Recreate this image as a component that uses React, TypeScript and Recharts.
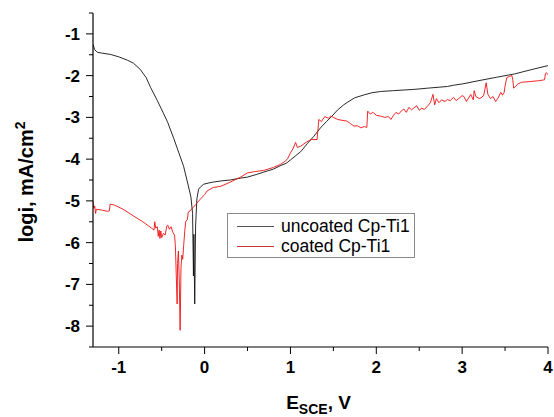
import { LineChart, Line, XAxis, YAxis } from 'recharts';

// uncoated Cp-Ti1: [E (V vs SCE), log i]
const uncoatedE = [
  -1.3, -1.28, -1.25, -1.2, -1.1, -1.0, -0.9, -0.83, -0.75, -0.68, -0.63, -0.55, -0.48, -0.43, -0.36,
  -0.3, -0.245, -0.2, -0.16, -0.14, -0.13, -0.125, -0.115, -0.105, -0.09, -0.07, -0.04, -0.01, 0.05,
  0.1, 0.2, 0.3, 0.4, 0.5, 0.6, 0.69, 0.8, 0.88, 0.95, 1.0, 1.06, 1.12, 1.2, 1.27, 1.35, 1.42, 1.47,
  1.55, 1.62, 1.67, 1.75, 1.86, 1.95, 2.05, 2.2, 2.44, 2.6, 2.83, 2.9, 3.0, 3.22, 3.4, 3.61, 3.8, 4.0,
];
const uncoatedLogI = [
  -1.25, -1.38, -1.44, -1.46, -1.49, -1.55, -1.63, -1.7, -1.85, -2.05, -2.28, -2.6, -2.9, -3.12, -3.5,
  -3.85, -4.17, -4.55, -4.9, -5.3, -6.8, -5.8, -7.47, -5.6, -4.95, -4.72, -4.65, -4.6, -4.57,
  -4.55, -4.52, -4.5, -4.46, -4.43, -4.37, -4.31, -4.24, -4.16, -4.1, -4.02, -3.92, -3.82, -3.62, -3.46, -3.25, -3.1, -3.0,
  -2.82, -2.7, -2.63, -2.53, -2.46, -2.41, -2.38, -2.36, -2.33, -2.3, -2.26, -2.23, -2.2, -2.11, -2.04, -1.96, -1.86, -1.76,
];

// coated Cp-Ti1
const coatedE = [
  -1.3, -1.29, -1.28, -1.27, -1.26, -1.2, -1.13, -1.11, -1.1, -1.05, -0.95, -0.83, -0.72, -0.62, -0.59,
  -0.58, -0.57, -0.55, -0.54, -0.53, -0.52, -0.51, -0.5, -0.48, -0.46, -0.44, -0.43, -0.41, -0.39, -0.37,
  -0.35, -0.34, -0.33, -0.32, -0.315, -0.305, -0.295, -0.285, -0.275, -0.265, -0.255, -0.245, -0.23, -0.22,
  -0.2, -0.19, -0.16, -0.13, -0.1, -0.05, 0.0, 0.03, 0.1, 0.19, 0.3, 0.42, 0.5, 0.58, 0.69, 0.8, 0.88,
  0.94, 0.97, 1.0, 1.03, 1.06, 1.08, 1.12, 1.18, 1.24, 1.31, 1.32, 1.33, 1.36, 1.4, 1.44, 1.47, 1.5, 1.55,
  1.6, 1.66, 1.7, 1.74, 1.78, 1.82, 1.86, 1.89, 1.9, 1.93, 1.96, 2.0, 2.05, 2.1, 2.14, 2.17, 2.2, 2.23,
  2.26, 2.29, 2.32, 2.35, 2.38, 2.41, 2.44, 2.47, 2.5, 2.53, 2.56, 2.6, 2.63, 2.66, 2.68, 2.7, 2.73, 2.76,
  2.8, 2.83, 2.86, 2.9, 2.93, 2.96, 3.0, 3.02, 3.05, 3.08, 3.1, 3.13, 3.14, 3.16, 3.2, 3.22, 3.25, 3.28,
  3.3, 3.33, 3.36, 3.39, 3.42, 3.45, 3.47, 3.49, 3.5, 3.52, 3.55, 3.58, 3.59, 3.6, 3.65, 3.69, 3.8, 3.9,
  3.96, 3.97, 3.98, 4.0,
];
const coatedLogI = [
  -5.0, -5.18, -5.12, -5.3, -5.2, -5.22, -5.25, -5.24, -5.08, -5.1, -5.2, -5.36, -5.5, -5.65, -5.7,
  -5.5, -5.65, -5.62, -5.85, -5.7, -5.9, -5.72, -5.88, -5.78, -5.82, -5.6, -5.58, -5.68, -5.62, -5.75,
  -5.82, -6.1, -6.8, -7.47, -6.5, -6.2, -6.9, -8.1, -6.6, -6.3, -6.4, -6.1, -5.7, -5.5,
  -5.44, -5.27, -5.22, -5.15, -5.08, -4.96, -4.85, -4.76, -4.68, -4.65, -4.55, -4.43, -4.33, -4.3, -4.27, -4.2, -4.13,
  -4.05, -3.98, -3.85, -3.75, -3.6, -3.72, -3.69, -3.6, -3.53, -3.53, -3.3, -3.05, -3.1, -2.98, -3.02, -2.97, -3.0, -3.05,
  -3.07, -3.09, -3.15, -3.21, -3.2, -3.25, -3.22, -3.24, -2.85, -2.92, -2.88, -2.95, -2.97, -3.0, -2.98, -3.05, -2.95, -2.88,
  -2.92, -2.85, -2.8, -2.88, -2.76, -2.82, -2.77, -2.72, -2.83, -2.78, -2.81, -2.72, -2.65, -2.45, -2.7, -2.55, -2.65, -2.58,
  -2.62, -2.57, -2.6, -2.52, -2.6, -2.55, -2.48, -2.5, -2.62, -2.52, -2.45, -2.58, -2.36, -2.5, -2.55, -2.53, -2.48, -2.17,
  -2.45, -2.55, -2.5, -2.62, -2.53, -2.4, -2.47, -2.4, -2.25, -2.05, -2.02, -2.0, -2.1, -2.3, -2.2, -2.16, -2.14, -2.12,
  -2.1, -1.95, -1.93, -1.98,
];

const xTicks = [-1, -0.5, 0, 0.5, 1, 1.5, 2, 2.5, 3, 3.5, 4];
const yTicks = [-8.5, -8, -7.5, -7, -6.5, -6, -5.5, -5, -4.5, -4, -3.5, -3, -2.5, -2, -1.5, -1, -0.5];

const seriesNames = ['uncoated Cp-Ti1', 'coated Cp-Ti1'];
const seriesColors = ['#111', '#ee1111'];
const legendColors = ['#555', '#c33'];

const uncoated = uncoatedE.map((e, i) => ({ e, v: uncoatedLogI[i] }));
const coated = coatedE.map((e, i) => ({ e, v: coatedLogI[i] }));

const FONT = '"Liberation Sans", Arial, sans-serif';

const XTick = ({ x, y, payload }: any) => {
  const major = Number.isInteger(payload.value);
  return (
    <g>
      <line x1={x} y1={y} x2={x} y2={y + (major ? 7 : 4)} stroke="#000" />
      {major && (
        <text x={x} y={y + 26} textAnchor="middle" fontFamily={FONT} fontWeight="bold" fontSize={17} fill="#000">
          {payload.value}
        </text>
      )}
    </g>
  );
};

const YTick = ({ x, y, payload }: any) => {
  const major = Number.isInteger(payload.value);
  return (
    <g>
      <line x1={x} y1={y} x2={x - (major ? 7 : 4)} y2={y} stroke="#000" />
      {major && (
        <text x={x - 13} y={y + 6} textAnchor="end" fontFamily={FONT} fontWeight="bold" fontSize={17} fill="#000">
          {payload.value}
        </text>
      )}
    </g>
  );
};

const LegendBox = () => (
  <div
    style={{
      position: 'absolute',
      left: 227,
      top: 213,
      width: 188,
      height: 45,
      border: '1px solid #8a8a8a',
      background: '#fff',
      fontFamily: FONT,
      fontSize: 17.5,
      color: '#000',
      boxSizing: 'border-box',
      padding: '2px 0 0 9px',
      lineHeight: '20px',
    }}
  >
    {seriesNames.map((name, i) => (
      <div key={name} style={{ display: 'flex', alignItems: 'center' }}>
        <span style={{ display: 'inline-block', width: 37, height: 0, borderTop: `1px solid ${legendColors[i]}`, marginRight: 7 }} />
        <span>{name}</span>
      </div>
    ))}
  </div>
);

export default function App() {
  return (
    <div style={{ position: 'absolute', left: 0, top: 0, width: 554, height: 417, background: '#fff' }}>
      <LineChart width={554} height={417} margin={{ top: 13, right: 6, bottom: 0, left: 0 }}>
        <XAxis
          type="number"
          dataKey="e"
          domain={[-1.3, 4]}
          ticks={xTicks}
          interval={0}
          allowDataOverflow
          height={70}
          tickSize={0}
          tickMargin={0}
          tickLine={false}
          tick={<XTick />}
          axisLine={{ stroke: '#000', strokeWidth: 1.2 }}
          label={{
            content: ({ viewBox }: any) => (
              <text x={viewBox.x + viewBox.width / 2 - 2} y={viewBox.y + 62} textAnchor="middle" fontFamily={FONT} fontWeight="bold" fill="#000">
                <tspan fontSize={19}>E</tspan>
                <tspan fontSize={14} dy={5}>SCE</tspan>
                <tspan fontSize={19} dy={-5}>, V</tspan>
              </text>
            ),
          }}
        />
        <YAxis
          type="number"
          domain={[-8.5, -0.5]}
          ticks={yTicks}
          interval={0}
          allowDataOverflow
          width={93}
          tickSize={0}
          tickMargin={0}
          tickLine={false}
          tick={<YTick />}
          axisLine={{ stroke: '#000', strokeWidth: 1.2 }}
          label={{
            content: ({ viewBox }: any) => {
              const cx = 33;
              const cy = viewBox.y + viewBox.height / 2 + 2;
              return (
                <text transform={`translate(${cx},${cy}) rotate(-90)`} textAnchor="middle" fontFamily={FONT} fontWeight="bold" fill="#000" fontSize={20}>
                  logi, mA/cm
                  <tspan fontSize={14} dy={-8}>2</tspan>
                </text>
              );
            },
          }}
        />
        <Line data={uncoated} dataKey="v" name={seriesNames[0]} stroke={seriesColors[0]} strokeWidth={0.9} dot={false} isAnimationActive={false} type="linear" />
        <Line data={coated} dataKey="v" name={seriesNames[1]} stroke={seriesColors[1]} strokeWidth={0.9} dot={false} isAnimationActive={false} type="linear" />
      </LineChart>
      <LegendBox />
    </div>
  );
}
